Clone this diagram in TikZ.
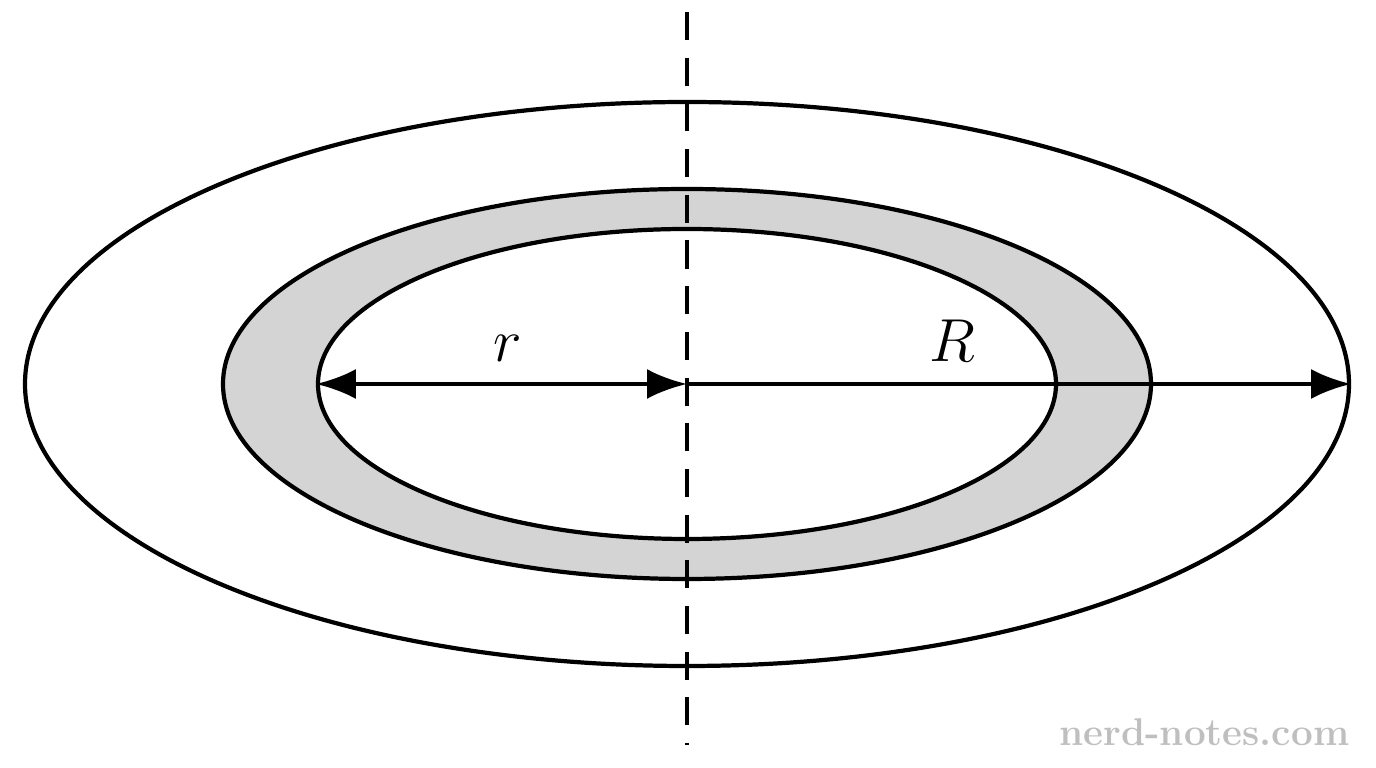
\documentclass[tikz,border=0pt]{standalone}
\usepackage{tikz}
\usetikzlibrary{shapes.geometric,arrows.meta,positioning}
\definecolor{ringgrey}{HTML}{D4D4D4}
\tikzset{ring/.style={ellipse, draw, line width=1.2pt, inner sep=0pt},
	dim/.style={line width=1.2pt, {Latex[length=4mm,width=3mm]}-{Latex[length=4mm,width=3mm]}},
	lbl/.style={font=\fontsize{19}{22}\selectfont}
}

\begin{document}
\begin{tikzpicture}
\useasboundingbox (0,0) rectangle (13.76,7.68);

\coordinate (C) at (6.87,3.84);
\node[ring, minimum width=13.24cm, minimum height=5.64cm] (outer) at (C) {};
\node[ring, fill=ringgrey, minimum width=9.28cm, minimum height=3.9cm] (band) at (C) {};
\node[ring, fill=white, minimum width=7.38cm, minimum height=3.1cm] (inner) at (C) {};

% axis
\coordinate (top) at (6.87,7.56);
\coordinate (bot) at (6.87,0.23);
\draw[line width=1.2pt, dash pattern=on 8pt off 5pt] (top) -- (bot);

%Lines
\draw[dim] (inner.west) -- (C);
\draw[line width=1.2pt, -{Latex[length=4mm,width=3mm]}] (C) -- (outer.east);

\node[lbl, above=0.1cm of C, xshift=-1.79cm] (r) {$r$};
\node[lbl, above=0.1cm of C, xshift=2.65cm] (R) {$R$};

\node[text=gray!50, font=\fontsize{11}{13}\selectfont\bfseries, anchor=east, inner sep=0pt] (wm) at (13.5,0.36) {nerd-notes.com};
\end{tikzpicture}
\end{document}
